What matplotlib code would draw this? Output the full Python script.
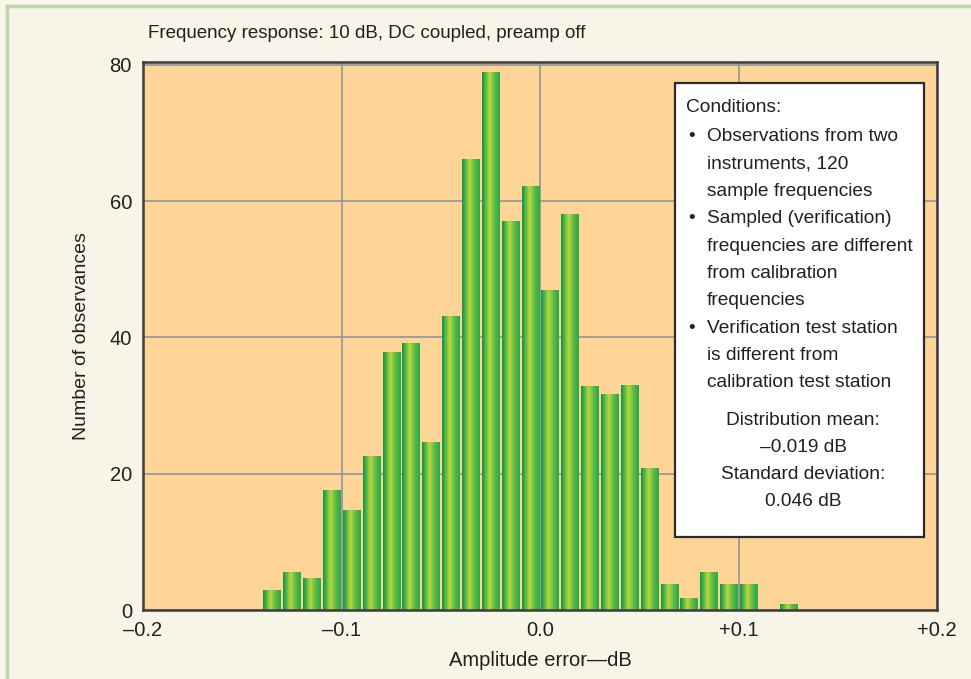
import numpy as np
import matplotlib
matplotlib.use("Agg")
import matplotlib.pyplot as plt
from matplotlib.colors import LinearSegmentedColormap
from matplotlib.patches import Rectangle
from matplotlib.lines import Line2D

plt.rcParams['font.family'] = ['Liberation Sans Narrow', 'Liberation Sans', 'DejaVu Sans']

# bin centres (dB) and counts
bin_centers = [-0.135, -0.125, -0.115, -0.105, -0.095, -0.085, -0.075, -0.065,
               -0.055, -0.045, -0.035, -0.025, -0.015, -0.005, 0.005, 0.015,
               0.025, 0.035, 0.045, 0.055, 0.065, 0.075, 0.085, 0.095, 0.105,
               0.125]
counts = [3, 5.6, 4.7, 17.6, 14.6, 22.6, 37.8, 39.2,
          24.7, 43.1, 66.2, 79, 57.1, 62.2, 46.9, 58.1,
          32.8, 31.7, 33, 20.8, 3.8, 1.8, 5.6, 3.8, 3.8,
          0.9]

xticks = [-0.2, -0.1, 0.0, 0.1, 0.2]
xtick_labels = ["\u20130.2", "\u20130.1", "0.0", "+0.1", "+0.2"]
yticks = [0, 20, 40, 60, 80]

conditions = ["Observations from two\ninstruments, 120\nsample frequencies",
              "Sampled (verification)\nfrequencies are different\nfrom calibration\nfrequencies",
              "Verification test station\nis different from\ncalibration test station"]
stats = ["Distribution mean:", "\u20130.019 dB", "Standard deviation:", "0.046 dB"]

txt = "#231f20"
fig = plt.figure(figsize=(9.71, 6.79), dpi=100, facecolor="#f7f4e8")
ax = fig.add_axes([0.1473, 0.1016, 0.8180, 0.8071])
ax.set_facecolor("#fed596")

bars = ax.bar(bin_centers, counts, width=0.0088, facecolor="none",
              edgecolor="none", zorder=2)

cmap = LinearSegmentedColormap.from_list(
    "bar", [(0.0, "#16933e"), (0.15, "#3fb04a"), (0.42, "#bcd83a"),
            (0.7, "#5dbb48"), (1.0, "#2aa846")])
grad = np.linspace(0, 1, 64).reshape(1, -1)
for p in bars.patches:
    x0, y0 = p.get_x(), p.get_y()
    w, h = p.get_width(), p.get_height()
    im = ax.imshow(grad, cmap=cmap, extent=[x0, x0 + w, y0, y0 + h],
                   aspect="auto", zorder=2, interpolation="bilinear")
    im.set_clip_path(p)

ax.set_xlim(-0.2, 0.2)
ax.set_ylim(0, 80.4)
ax.set_xticks(xticks)
ax.set_xticklabels(xtick_labels)
ax.set_yticks(yticks)
ax.tick_params(length=0, labelsize=14.5, colors=txt, pad=8)
ax.grid(True, color="#999999", linewidth=1.3)
ax.set_axisbelow(True)
for s in ax.spines.values():
    s.set_color("#3d3d3d")
    s.set_linewidth(1.8)

ax.set_xlabel("Amplitude error\u2014dB", fontsize=14.5, color=txt, labelpad=8)
ax.set_ylabel("Number of observances", fontsize=14, color=txt, labelpad=14)
fig.text(148 / 971, 1 - 33 / 679, "Frequency response: 10 dB, DC coupled, preamp off",
         fontsize=13.5, color=txt, va="center", ha="left")

# conditions box
box = Rectangle((0.670, 0.133), 0.3136, 0.8287, transform=ax.transAxes,
                facecolor="white", edgecolor="#2b2b2b", linewidth=1.6, zorder=5)
ax.add_patch(box)
tf = ax.transAxes
def ay(py):
    return (610 - py) / 548
def ax_(px):
    return (px - 143) / 794
fs = 13.8
ax.text(ax_(686), ay(108), "Conditions:", transform=tf, fontsize=fs, color=txt,
        va="center", ha="left", zorder=6)
line_pitch = 27.3
y = 137
for c in conditions:
    lines = c.split("\n")
    ax.text(ax_(691), ay(y), "\u2022", transform=tf, fontsize=fs, color=txt,
            va="center", ha="center", zorder=6)
    for ln in lines:
        ax.text(ax_(707), ay(y), ln, transform=tf, fontsize=fs, color=txt,
                va="center", ha="left", zorder=6)
        y += line_pitch
y = 420
for s in stats:
    ax.text(ax_(803), ay(y), s, transform=tf, fontsize=fs, color=txt,
            va="center", ha="center", zorder=6)
    y += 27.3

# light green frame on top and left
fig.add_artist(Line2D([7 / 971, 1], [1 - 6 / 679, 1 - 6 / 679], color="#bcd8aa",
                      linewidth=2.5, transform=fig.transFigure))
fig.add_artist(Line2D([7 / 971, 7 / 971], [0, 1 - 6 / 679], color="#bcd8aa",
                      linewidth=2.5, transform=fig.transFigure))

fig.savefig("out.png", dpi=100, facecolor=fig.get_facecolor())
